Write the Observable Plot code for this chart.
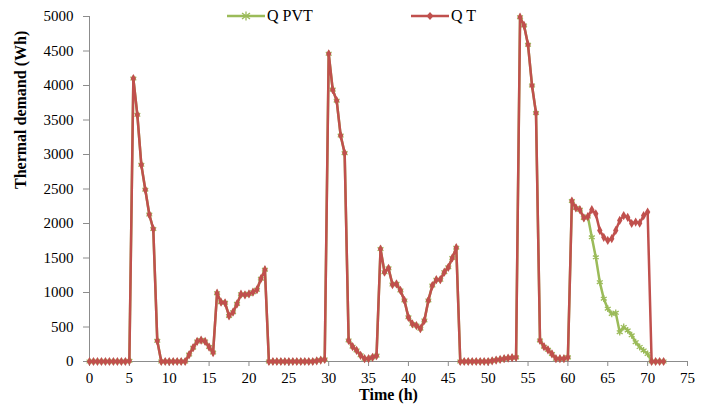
<!DOCTYPE html>
<html><head><meta charset="utf-8">
<script src="https://cdn.jsdelivr.net/npm/d3@7"></script>
<script src="https://cdn.jsdelivr.net/npm/@observablehq/plot@0.6"></script>
<style>
body{margin:0;background:#fff;}
#wrap{position:relative;width:708px;height:410px;font-family:"Liberation Serif","Times New Roman",serif;}
#wrap svg text{font-family:"Liberation Serif","Times New Roman",serif !important;}
.leg{position:absolute;top:6px;height:20px;display:flex;align-items:center;font-size:16px;color:#000;font-family:"Liberation Serif","Times New Roman",serif;}
.leg svg{display:block;}
</style></head><body>
<div id="wrap"></div>
<script>
// time step 0.5 h from 0 to 72 h
const tStart = 0, tStep = 0.5;
const seriesNames = ["Q PVT", "Q T"];
const seriesColors = ["#9BBB59", "#C0504D"];
const xTicks = [0,5,10,15,20,25,30,35,40,45,50,55,60,65,70,75];
const yTicks = [0,500,1000,1500,2000,2500,3000,3500,4000,4500,5000];

const qT = [
 0,0,0,0,0,0,0,0,0,0,10,
 4100,3575,2850,2490,2130,1920,300,
 0,0,0,0,0,0,0,
 100,200,290,310,290,210,130,990,860,850,660,715,835,975,965,980,1005,1040,1200,1330,
 0,0,0,0,0,0,0,0,0,0,0,0,
 10,20,30,
 4460,3940,3780,3275,3020,
 305,215,160,90,40,40,60,85,
 1630,1295,1350,1115,1125,1030,885,640,545,520,475,595,885,1100,1185,1185,1295,1365,1500,1650,
 0,0,0,0,0,0,0,0,
 10,20,30,40,50,55,60,
 4990,4870,4590,4000,3600,
 305,215,170,110,40,40,40,60,
 2325,2225,2200,2080,2100,2200,2140,1900,1800,1755,1780,1900,2045,2115,2090,2000,2020,2005,2115,2165,
 0,0,0,0
];
const qPVT = [
 0,0,0,0,0,0,0,0,0,0,10,
 4100,3575,2850,2490,2130,1920,300,
 0,0,0,0,0,0,0,
 100,200,290,310,290,210,130,990,860,850,660,715,835,975,965,980,1005,1040,1200,1330,
 0,0,0,0,0,0,0,0,0,0,0,0,
 10,20,30,
 4460,3940,3780,3275,3020,
 305,215,160,90,40,40,60,85,
 1630,1295,1350,1115,1125,1030,885,640,545,520,475,595,885,1100,1185,1185,1295,1365,1500,1650,
 0,0,0,0,0,0,0,0,
 10,20,30,40,50,55,60,
 4990,4870,4590,4000,3600,
 305,215,170,110,40,40,40,60,
 2325,2225,2200,2080,2100,1800,1510,1150,910,765,690,705,425,500,450,380,280,210,160,110,
 0,0,0,0
];

const data = qT.map((v, i) => ({t: tStart + i * tStep, qt: v, pvt: qPVT[i]}));
const axisGray = "#8c8c8c";
const fmt = d => String(d);
const serif = "Liberation Serif";

const chart = Plot.plot({
  width: 708, height: 410,
  marginLeft: 89, marginRight: 21, marginTop: 16, marginBottom: 49,
  x: {domain: [0, 75]},
  y: {domain: [0, 5000]},
  style: {fontFamily: serif, fontSize: "15px", color: "#000", background: "#fff"},
  marks: [
    Plot.axisY({ticks: yTicks, tickFormat: fmt, tickSize: 6, tickPadding: 10, stroke: axisGray, label: null, fontFamily: serif, fontSize: 15, fontVariant: "normal"}),
    Plot.axisX({ticks: xTicks, tickFormat: fmt, tickSize: 5, tickPadding: 6, stroke: axisGray, label: null, fontFamily: serif, fontSize: 15, fontVariant: "normal"}),
    Plot.ruleX([0], {stroke: axisGray}),
    Plot.ruleY([0], {stroke: axisGray}),
    Plot.line(data, {x: "t", y: "pvt", stroke: seriesColors[0], strokeWidth: 2.5}),
    Plot.dot(data, {x: "t", y: "pvt", symbol: "asterisk", stroke: seriesColors[0], r: 3.2, strokeWidth: 1.3}),
    Plot.line(data, {x: "t", y: "qt", stroke: seriesColors[1], strokeWidth: 2.5}),
    Plot.dot(data, {x: "t", y: "qt", symbol: "diamond", fill: seriesColors[1], r: 2.8}),
    Plot.text(["Time (h)"], {frameAnchor: "bottom", dy: 38, fontWeight: "bold", fontSize: 16, fontFamily: serif}),
    Plot.text(["Thermal demand (Wh)"], {frameAnchor: "left", dx: -69, rotate: -90, fontWeight: "bold", fontSize: 16, fontFamily: serif})
  ]
});
const wrap = document.getElementById("wrap");
wrap.appendChild(chart);

// legend overlay
const legPos = [227, 411];
seriesNames.forEach((name, i) => {
  const d = document.createElement("div");
  d.className = "leg";
  d.style.left = legPos[i] + "px";
  const c = seriesColors[i];
  const marker = i === 0
    ? `<g stroke="${c}" stroke-width="1.3"><line x1="15" y1="7" x2="23" y2="13"/><line x1="15" y1="13" x2="23" y2="7"/><line x1="19" y1="5.5" x2="19" y2="14.5"/></g>`
    : `<path d="M19,6 L22.5,10 L19,14 L15.5,10 Z" fill="${c}"/>`;
  d.innerHTML = `<svg width="38" height="20"><line x1="0" y1="10" x2="38" y2="10" stroke="${c}" stroke-width="2.5"/>${marker}</svg><span style="margin-left:2px">${name}</span>`;
  wrap.appendChild(d);
});
</script>
</body></html>
